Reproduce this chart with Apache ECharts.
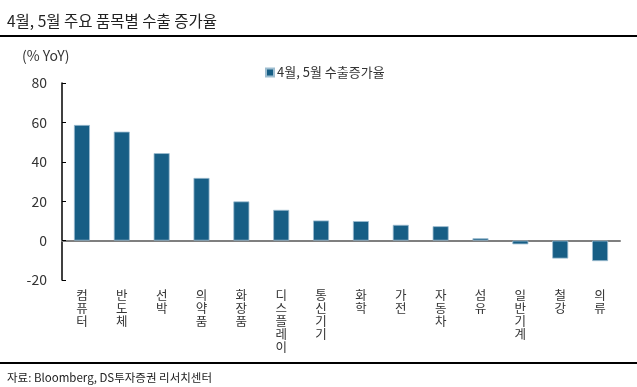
<!DOCTYPE html>
<html><head><meta charset="utf-8">
<script src="https://cdn.jsdelivr.net/npm/echarts@6/dist/echarts.min.js"></script>
<style>html,body{margin:0;padding:0;background:#fff}#c{width:637px;height:387px}</style>
</head><body><div id="c"></div>
<script>
const categories = ['컴퓨터','반도체','선박','의약품','화장품','디스플레이','통신기기','화학','가전','자동차','섬유','일반기계','철강','의류'];
const values = [58.7, 55.3, 44.4, 31.8, 19.9, 15.6, 10.2, 9.9, 8.0, 7.3, 1.2, -1.9, -9.1, -10.4];
const seriesName = '4월, 5월 수출증가율';
const yTicks = [-20, 0, 20, 40, 60, 80];
const FONT = '"Noto Sans CJK KR", "Noto Sans", sans-serif';
const chart = echarts.init(document.getElementById('c'), null, {renderer: 'canvas'});
chart.setOption({
  animation: false,
  textStyle: {fontFamily: FONT},
  title: [
    {text: '4월, 5월 주요 품목별 수출 증가율', left: 2, top: 8, textStyle: {fontFamily: FONT, fontSize: 15.5, fontWeight: 'normal', color: '#222'}},
    {text: '자료: Bloomberg, DS투자증권 리서치센터', left: 2, top: 367, textStyle: {fontFamily: FONT, fontSize: 11.5, fontWeight: 'normal', color: '#222'}}
  ],
  graphic: [
    {type: 'line', shape: {x1: 0, y1: 36, x2: 637, y2: 36}, style: {stroke: '#000', lineWidth: 2}},
    {type: 'line', shape: {x1: 0, y1: 363, x2: 637, y2: 363}, style: {stroke: '#000', lineWidth: 2}},
    {type: 'text', left: 22, top: 49, style: {text: '(% YoY)', font: '14px ' + FONT, fill: '#333'}}
  ],
  legend: {
    data: [seriesName], left: 260, top: 61, itemWidth: 8, itemHeight: 8, icon: 'rect', itemGap: 4,
    textStyle: {fontFamily: FONT, fontSize: 13, color: '#333', padding: [0,0,0,-2]}
  },
  grid: {left: 62, right: 17, top: 83, bottom: 107},
  xAxis: [
    {type: 'category', data: categories, axisLine: {onZero: true, lineStyle: {color: '#7f7f7f', width: 2}},
     axisTick: {inside: true, length: 4, lineStyle: {color: '#333'}}, axisLabel: {show: false}, splitLine: {show: false}},
    {type: 'category', data: categories, position: 'bottom', axisLine: {show: false}, axisTick: {show: false},
     axisLabel: {margin: 9, interval: 0, lineHeight: 13, fontSize: 12.5, color: '#333', fontFamily: FONT, verticalAlign: 'top',
       formatter: v => v.split('').join('\n')}}
  ],
  yAxis: {
    type: 'value', min: -20, max: 80, interval: 20,
    axisLine: {show: true, lineStyle: {color: '#000', width: 1.5}},
    axisTick: {show: true, inside: true, length: 4, lineStyle: {color: '#000'}},
    axisLabel: {fontSize: 14, color: '#333', margin: 15, fontFamily: FONT,
      formatter: v => yTicks.includes(v) ? String(v) : ''},
    splitLine: {show: false}
  },
  series: [{
    name: seriesName, type: 'bar', data: values, barWidth: 16, xAxisIndex: 0,
    itemStyle: {color: '#175e85', borderColor: '#9dbdd0', borderWidth: 0.8}
  }]
});
</script></body></html>
